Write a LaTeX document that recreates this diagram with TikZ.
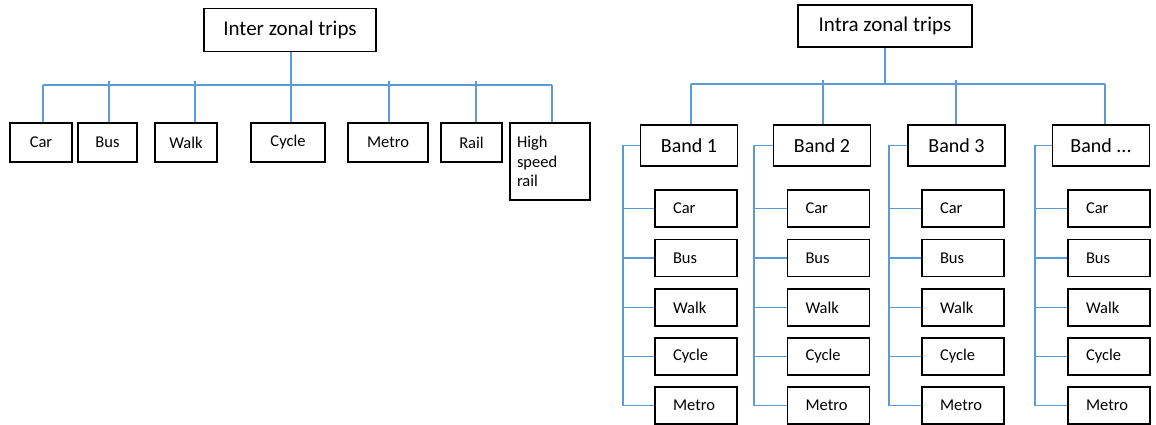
\documentclass[tikz,border=0pt]{standalone}
\usepackage{fontspec}
\setmainfont{Carlito}
\definecolor{linkblue}{RGB}{91,155,213}
\tikzset{
  box/.style={draw=black, line width=1.8pt, inner sep=0pt, align=center, fill=white},
  link/.style={draw=linkblue, line width=1.3pt},
  title/.style={font=\fontsize{21}{25}\selectfont},
  big/.style={font=\fontsize{20}{24}\selectfont},
  small/.style={font=\fontsize{16.5}{19.5}\selectfont},
  mode/.style={box, small, minimum height=39pt},
  item/.style={box, small, minimum height=37pt, minimum width=82pt,
    text width=46pt, inner xsep=18pt, align=left},
  band/.style={box, big, minimum height=41pt, minimum width=97pt},
}
\begin{document}
\begin{tikzpicture}[x=1pt,y=-1pt]
\useasboundingbox (0,0) rectangle (1156,425);

% ---------- inter zonal trips ----------
\node[box, title, minimum width=172pt, minimum height=43pt] (inter) at (290,30) {Inter zonal trips};

\node[mode, minimum width=62pt] (lcar)   at (41,142.5)   {Car};
\node[mode, minimum width=59pt] (lbus)   at (107.5,142.5) {Bus};
\node[mode, minimum width=62pt] (lwalk)  at (186,142.5)  {Walk};
\node[mode, minimum width=74pt] (lcycle) at (288,142.5)  {Cycle};
\node[mode, minimum width=80pt] (lmetro) at (388,142.5)  {Metro};
\node[mode, minimum width=61pt] (lrail)  at (471.5,142.5) {Rail};
\node[box, small, minimum width=80pt, minimum height=77pt, text width=66pt,
      inner xsep=7pt, align=left] (lhsr) at (550,161.5) {High\\speed\\rail};

\coordinate (tcar)   at (43,85);
\coordinate (tbus)   at (109,85);
\coordinate (twalk)  at (195,85);
\coordinate (tcycle) at (291,85);
\coordinate (tmetro) at (389,85);
\coordinate (trail)  at (476,85);
\coordinate (thsr)   at (552,85);

\draw[link] (inter.south -| tcycle) -- (tcycle);
\draw[link] (tcar) -- (thsr);
\draw[link] (tcar) -- (tcar |- lcar.north);
\draw[link] (thsr) -- (thsr |- lhsr.north);
\foreach \t/\n in {tbus/lbus, twalk/lwalk, tcycle/lcycle, tmetro/lmetro, trail/lrail}
  \draw[link] ([yshift=4pt]\t) -- (\t |- \n.north);

% ---------- intra zonal trips ----------
\node[box, title, minimum width=174pt, minimum height=42pt] (intra) at (885,26) {Intra zonal trips};

\coordinate (hb1) at (691,84);
\coordinate (hb4) at (1105,84);
\draw[link] (intra.south) -- (intra.south |- hb1);
\draw[link] (hb1) -- (hb4);

\foreach \i/\bx/\ix/\vx/\dx/\up/\lab in {
    1/689/696/623/691/0/{Band 1},
    2/822/828.5/754/823/4/{Band 2},
    3/956.5/963/889/956/4/{Band 3},
    4/1101/1109/1035/1105/0/{Band ...}} {
  \node[band] (b\i) at (\bx,145.5) {\lab};
  \coordinate (d\i) at (\dx,84);
  \coordinate (v\i) at (\vx,145.5);
  \draw[link] ([yshift=\up pt]d\i) -- (d\i |- b\i.north);
  \foreach \j/\y/\m in {1/208.5/Car, 2/258/Bus, 3/307.5/Walk, 4/356.5/Cycle, 5/405.5/Metro} {
    \node[item] (m\i-\j) at (\ix,\y) {\m};
    \draw[link] (v\i |- m\i-\j.west) -- (m\i-\j.west);
  }
  \draw[link] (b\i.west) -- (v\i) -- (v\i |- m\i-5.west);
}
\end{tikzpicture}
\end{document}
